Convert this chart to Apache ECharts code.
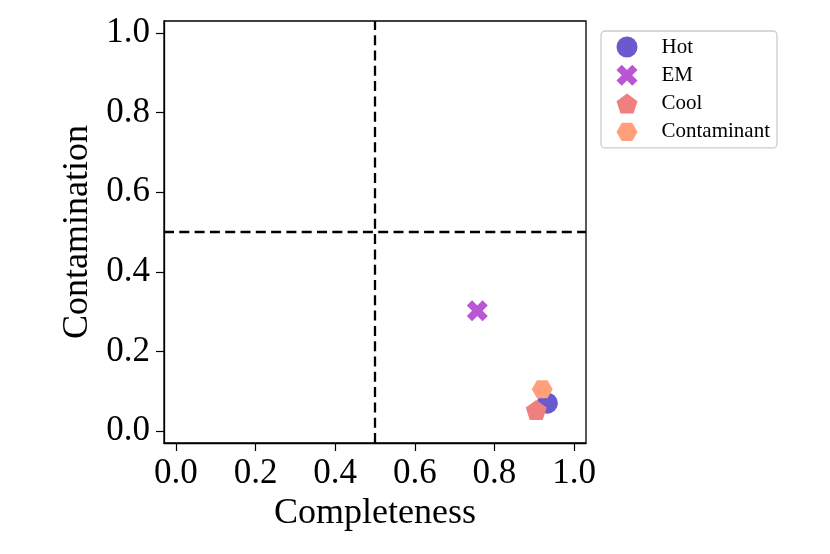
<!DOCTYPE html>
<html>
<head>
<meta charset="utf-8">
<script src="https://cdn.jsdelivr.net/npm/echarts@6/dist/echarts.min.js"></script>
<style>
  html, body { margin: 0; padding: 0; background: #fff; }
  #chart { width: 830px; height: 554px; }
</style>
</head>
<body>
<div id="chart"></div>
<script>
// data
const seriesNames = ['Hot', 'EM', 'Cool', 'Contaminant'];
const completeness = [0.933, 0.757, 0.905, 0.920];
const contamination = [0.070, 0.302, 0.053, 0.105];
const tickValues = [0, 0.2, 0.4, 0.6, 0.8, 1.0];
const cutValue = 0.5;

const colors = ['#6A5ACD', '#BA55D3', '#F08080', '#FFA07A'];
// matplotlib-like filled markers: o, X, p (pentagon), H (flat hexagon)
const symbols = [
  'circle',
  'path://M1,0L2,1L3,0L4,1L3,2L4,3L3,4L2,3L1,4L0,3L1,2L0,1Z',
  'path://M95.1,0L190.2,69.1L153.9,180.9L36.3,180.9L0,69.1Z',
  'path://M50,0L150,0L200,86.6L150,173.2L50,173.2L0,86.6Z'
];

const font = 'Liberation Serif';

const chart = echarts.init(document.getElementById('chart'));

const series = seriesNames.map((name, i) => {
  const s = {
    name: name,
    type: 'scatter',
    data: [[completeness[i], contamination[i]]],
    symbol: symbols[i],
    symbolSize: 21,
    symbolKeepAspect: true,
    itemStyle: { color: colors[i], opacity: 1 },
    emphasis: { disabled: true }
  };
  if (i === 0) {
    // dashed cut lines at 0.5
    s.markLine = {
      silent: true,
      symbol: ['none', 'none'],
      label: { show: false },
      lineStyle: { color: '#000', width: 2.3, type: [10, 5.3] },
      data: [{ xAxis: cutValue }, { yAxis: cutValue }]
    };
  }
  return s;
});

const axisCommon = {
  type: 'value',
  min: -0.03,
  max: 1.03,
  nameLocation: 'middle',
  nameTextStyle: { fontFamily: font, fontSize: 36, color: '#000' },
  axisLine: { show: true, onZero: false, lineStyle: { color: '#000', width: 1.3 } },
  axisTick: { show: true, inside: false, length: 8, customValues: tickValues, lineStyle: { color: '#000', width: 1.2 } },
  splitLine: { show: false },
  axisLabel: {
    customValues: tickValues,
    fontFamily: font,
    fontSize: 35,
    color: '#000',
    formatter: v => v.toFixed(1)
  }
};

chart.setOption({
  animation: false,
  backgroundColor: '#fff',
  grid: {
    left: 164, top: 21, right: 244, bottom: 111,
    show: true, borderColor: '#000', borderWidth: 1.3,
    containLabel: false
  },
  xAxis: Object.assign({}, axisCommon, {
    name: 'Completeness',
    nameGap: 49,
    axisLabel: Object.assign({}, axisCommon.axisLabel, { margin: 13 })
  }),
  yAxis: Object.assign({}, axisCommon, {
    name: 'Contamination',
    nameGap: 66,
    nameRotate: 90,
    axisLabel: Object.assign({}, axisCommon.axisLabel, { margin: 14, padding: [5, 0, 0, 0] })
  }),
  legend: {
    orient: 'vertical',
    left: 601,
    top: 31,
    data: seriesNames,
    itemWidth: 21,
    itemHeight: 21,
    itemGap: 7.3,
    padding: [5.5, 7, 5.5, 15.5],
    backgroundColor: '#fff',
    borderColor: '#cccccc',
    borderWidth: 1.3,
    borderRadius: 4,
    selectedMode: false,
    textStyle: { fontFamily: font, fontSize: 21, color: '#000', lineHeight: 21, padding: [0, 0, 0, 19] }
  },
  series: series
});
</script>
</body>
</html>
